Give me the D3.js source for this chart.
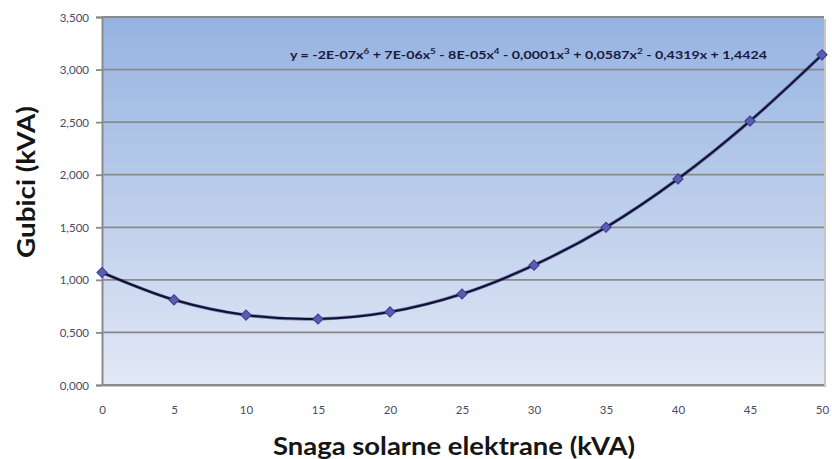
<!DOCTYPE html>
<html><head><meta charset="utf-8">
<script src="https://cdn.jsdelivr.net/npm/d3@7"></script>
<style>
html,body{margin:0;padding:0;background:#fff;}
svg{display:block;}
</style></head>
<body>
<svg id="chart" width="832" height="459"></svg>
<script>
const xValues = [0,5,10,15,20,25,30,35,40,45,50];
const yValues = [1.07,0.81,0.665,0.628,0.695,0.866,1.14,1.50,1.96,2.51,3.14];
const yTicks = [0,0.5,1,1.5,2,2.5,3,3.5];
const xTicks = [0,5,10,15,20,25,30,35,40,45,50];
const xTitle = "Snaga solarne elektrane (kVA)";
const yTitle = "Gubici (kVA)";

const svg = d3.select("#chart");
const L = 102, R = 822, T = 17, B = 385;
const x = d3.scaleLinear().domain([0,50]).range([L,R]);
const y = d3.scaleLinear().domain([0,3.5]).range([B,T]);
const FONT = "Lato, 'Open Sans', sans-serif";

const defs = svg.append("defs");
const g = defs.append("linearGradient").attr("id","bg").attr("x1",0).attr("y1",0).attr("x2",0).attr("y2",1);
g.append("stop").attr("offset","0%").attr("stop-color","#95b3e1");
g.append("stop").attr("offset","100%").attr("stop-color","#e2e8f5");
const sh = defs.append("filter").attr("id","blur").attr("x","-20%").attr("y","-20%").attr("width","140%").attr("height","140%");
sh.append("feGaussianBlur").attr("stdDeviation",0.5);

svg.append("rect").attr("x",L+2).attr("y",T+2).attr("width",R-L+2).attr("height",B-T).attr("fill","#c8c8c8").attr("filter","url(#blur)");
svg.append("rect").attr("x",L).attr("y",T).attr("width",R-L+2).attr("height",B-T).attr("fill","url(#bg)");

svg.append("g").selectAll("line").data(yTicks.filter(d=>d>0)).join("line")
  .attr("x1",L).attr("x2",R+2).attr("y1",d=>y(d)).attr("y2",d=>y(d))
  .attr("stroke","#8a8a8a").attr("stroke-width",1.8);

const yAxis = d3.axisLeft(y).tickValues(yTicks).tickSize(6).tickPadding(7)
  .tickFormat(d => d.toFixed(3).replace(".", ","));
const ya = svg.append("g").attr("transform",`translate(${L},0)`).call(yAxis);
ya.select(".domain").attr("stroke","#8a8a8a").attr("stroke-width",2);
ya.selectAll(".tick line").attr("stroke","#8a8a8a").attr("stroke-width",1.8);
ya.selectAll(".tick text").attr("fill","#4a4a66").attr("font-family",FONT).attr("font-size",11.5).attr("dy","0.35em");

const xAxis = d3.axisBottom(x).tickValues(xTicks).tickSize(0).tickPadding(21).tickFormat(d3.format("d"));
const xa = svg.append("g").attr("transform",`translate(0,${B})`).call(xAxis);
xa.select(".domain").attr("stroke","#8a8a8a").attr("stroke-width",2).attr("d",`M${L},0H${R+2}`);
xa.selectAll(".tick text").attr("fill","#4a4a66").attr("font-family",FONT).attr("font-size",11.5);

const line = d3.line().x((d,i)=>x(xValues[i])).y(d=>y(d)).curve(d3.curveCatmullRom.alpha(0.5));
svg.append("path").datum(yValues).attr("d",line).attr("fill","none").attr("stroke","#3a3a8a").attr("stroke-width",3.4).attr("opacity",0.6);
svg.append("path").datum(yValues).attr("d",line).attr("fill","none").attr("stroke","#101030").attr("stroke-width",2);

svg.append("g").selectAll("path").data(yValues).join("path")
  .attr("d", d3.symbol().type(d3.symbolSquare).size(52))
  .attr("transform",(d,i)=>`translate(${x(xValues[i])},${y(d)}) rotate(45)`)
  .attr("fill","#5b5bb0").attr("stroke","#3b3b90").attr("stroke-width",1);

const eq = svg.append("text").attr("x",290).attr("y",59).attr("fill","#1a1a40")
  .attr("font-family",FONT).attr("font-size",11.5).attr("font-weight","bold");
const parts = [["y = -2E-07x",""],["6","sup"],[" + 7E-06x",""],["5","sup"],[" - 8E-05x",""],["4","sup"],[" - 0,0001x",""],["3","sup"],[" + 0,0587x",""],["2","sup"],[" - 0,4319x + 1,4424",""]];
parts.forEach((p,i)=>{
  const t = eq.append("tspan").text(p[0]);
  if(p[1]==="sup") t.attr("font-size",8).attr("dy",-5);
  else if(i>0) t.attr("dy",5);
});
eq.attr("textLength",477).attr("lengthAdjust","spacingAndGlyphs");

svg.append("text").attr("x",454).attr("y",455).attr("text-anchor","middle")
  .attr("font-family",FONT).attr("font-weight","bold").attr("font-size",24).attr("fill","#151515")
  .attr("textLength",362).attr("lengthAdjust","spacingAndGlyphs")
  .text(xTitle);
svg.append("text").attr("transform","translate(35,182) rotate(-90)").attr("text-anchor","middle")
  .attr("font-family",FONT).attr("font-weight","bold").attr("font-size",24).attr("fill","#151515")
  .attr("textLength",152).attr("lengthAdjust","spacingAndGlyphs")
  .text(yTitle);
</script>
</body></html>
